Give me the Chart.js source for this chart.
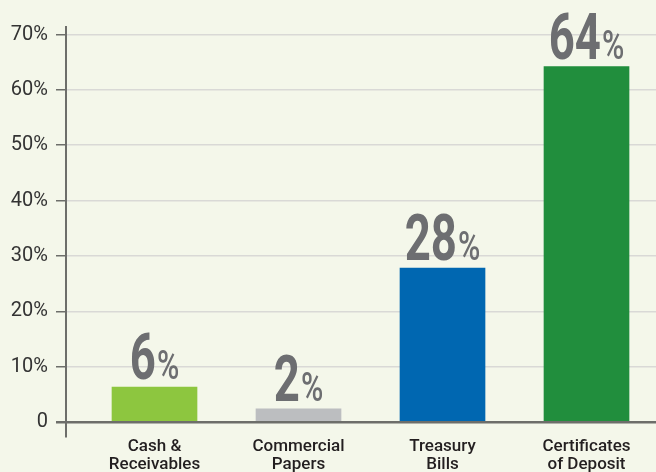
<!DOCTYPE html>
<html>
<head>
<meta charset="utf-8">
<script src="https://cdn.jsdelivr.net/npm/chart.js"></script>
<style>
  html, body { margin: 0; padding: 0; background: #f4f7ea; }
  #wrap { width: 656px; height: 472px; position: relative; }
</style>
</head>
<body>
<div id="wrap"><canvas id="mixChart"></canvas></div>
<script>
// Portfolio mix data
const categories = [['Cash &', 'Receivables'], ['Commercial', 'Papers'], ['Treasury', 'Bills'], ['Certificates', 'of Deposit']];
const shares = [6.3, 2.4, 27.8, 64.2];
const barColors = ['#8dc63f', '#bcbec0', '#0067b1', '#218e3d'];
const yTicks = [0, 10, 20, 30, 40, 50, 60, 70];

// Big grey value labels above each bar
const valueLabels = {
  id: 'valueLabels',
  afterDatasetsDraw(chart) {
    const ctx = chart.ctx;
    const meta = chart.getDatasetMeta(0);
    meta.data.forEach((bar, i) => {
      const num = String(Math.round(shares[i]));
      const digitFont = 'bold 65px Roboto';
      const pctFont = '500 41px Roboto';
      const sx1 = 0.7, sx2 = 0.74;
      ctx.save();
      ctx.font = digitFont;
      const w1 = ctx.measureText(num).width * sx1;
      ctx.font = pctFont;
      const w2 = ctx.measureText('%').width * sx2;
      const gap = 1;
      const total = w1 + gap + w2;
      const left = bar.x - total / 2;
      const base = bar.y - 8;
      ctx.fillStyle = '#6d6e71';
      ctx.textBaseline = 'alphabetic';
      ctx.textAlign = 'left';
      ctx.save();
      ctx.translate(left, base);
      ctx.scale(sx1, 1);
      ctx.font = digitFont;
      ctx.fillText(num, 0, 0);
      ctx.restore();
      ctx.save();
      ctx.translate(left + w1 + gap, base);
      ctx.scale(sx2, 1);
      ctx.font = pctFont;
      ctx.fillText('%', 0, 0);
      ctx.restore();
      ctx.restore();
    });
  }
};

new Chart(document.getElementById('mixChart'), {
  type: 'bar',
  data: {
    datasets: [{
      data: shares.map((v, i) => ({ x: i, y: v })),
      backgroundColor: barColors,
      barThickness: 85,
      borderWidth: 0
    }]
  },
  options: {
    responsive: true,
    maintainAspectRatio: false,
    animation: false,
    layout: { padding: { top: 27, left: 0, right: 0, bottom: 0 } },
    plugins: { legend: { display: false }, tooltip: { enabled: false } },
    scales: {
      x: {
        type: 'linear',
        offset: false,
        min: -0.6146,
        max: 3.4826,
        grid: { display: false, drawTicks: false, offset: false },
        border: { display: false },
        afterBuildTicks: s => { s.ticks = categories.map((c, i) => ({ value: i })); },
        afterFit: s => { s.height = 36; },
        ticks: {
          autoSkip: false,
          maxRotation: 0,
          padding: 2,
          color: '#231f20',
          font: { family: 'Roboto', size: 17, weight: '500', lineHeight: 1.04 },
          callback: v => categories[v] || ''
        }
      },
      y: {
        min: -2.53,
        max: 71.36,
        afterFit: s => { s.width = 66; },
        afterBuildTicks: s => { s.ticks = yTicks.map(v => ({ value: v })); },
        border: { display: true, color: '#6d6e6a', width: 2 },
        grid: {
          color: c => (c.tick && c.tick.value === 0) ? '#6d6e6a' : '#d9d9d6',
          lineWidth: c => (c.tick && c.tick.value === 0) ? 2.5 : 1.5,
          tickColor: '#6d6e6a',
          tickLength: 10
        },
        ticks: {
          padding: 8,
          color: '#333333',
          font: { family: 'Roboto', size: 20 },
          callback: v => v === 0 ? '0' : v + '%'
        }
      }
    }
  },
  plugins: [valueLabels]
});
</script>
</body>
</html>
